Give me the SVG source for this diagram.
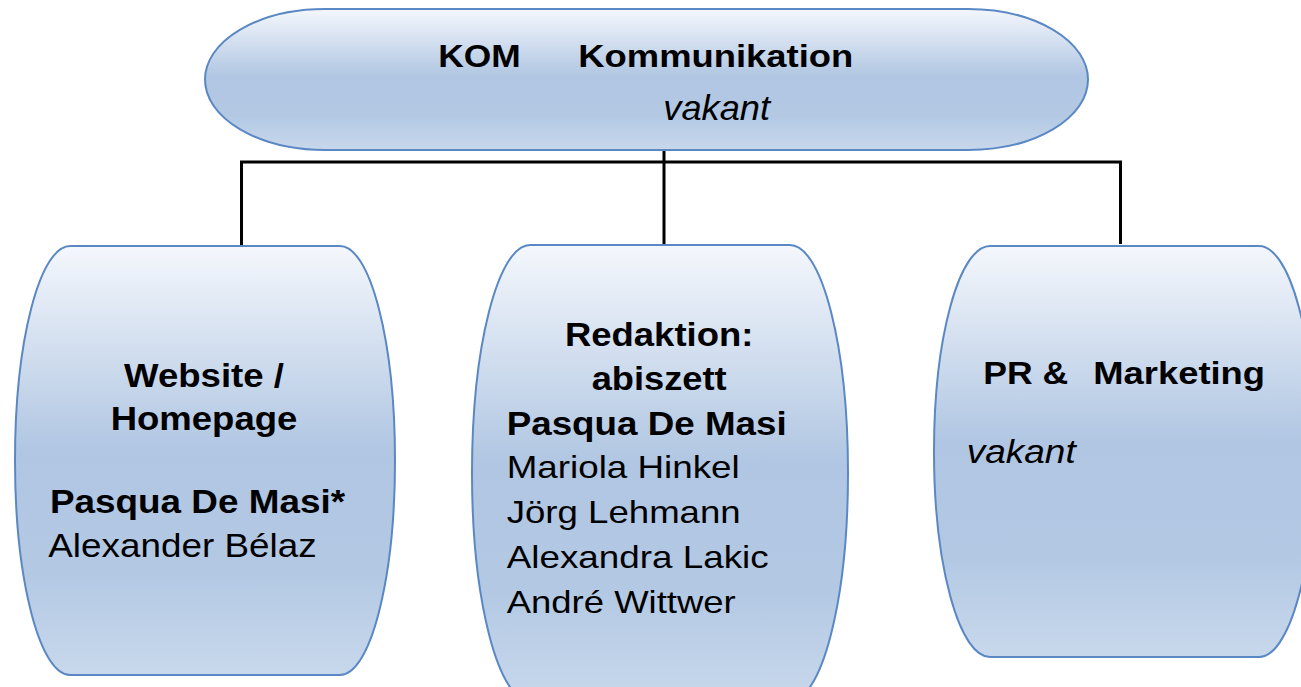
<svg xmlns="http://www.w3.org/2000/svg" width="1301" height="687" viewBox="0 0 1301 687">
<defs>
<linearGradient id="g" x1="0" y1="0" x2="0" y2="1">
<stop offset="0" stop-color="#f4f7fc"/>
<stop offset="0.48" stop-color="#b0c6e2"/>
<stop offset="0.75" stop-color="#b2c8e3"/>
<stop offset="1" stop-color="#c8d8ec"/>
</linearGradient>
<style>
.shape{fill:url(#g);stroke:#5a88c4;stroke-width:2}
.b{font-family:"Liberation Sans",Arial,sans-serif;font-weight:bold;fill:#000}
.r{font-family:"Liberation Sans",Arial,sans-serif;fill:#000}
.i{font-family:"Liberation Sans",Arial,sans-serif;font-style:italic;fill:#000}
.conn{fill:none;stroke:#000;stroke-width:3}
</style>
</defs>
<rect width="1301" height="687" fill="#fff"/>
<g id="connectors">
<path class="conn" d="M241.5,247 V162 H1120.5 V244"/>
<path class="conn" d="M664,150 V245"/>
</g>
<g id="node-kom">
<rect class="shape" x="205" y="9" width="883" height="141" rx="120" ry="70.5"/>
<text class="b" x="438.3" y="66.7" font-size="31" textLength="82.4" lengthAdjust="spacingAndGlyphs">KOM</text>
<text class="b" x="578.3" y="66.7" font-size="31" textLength="275" lengthAdjust="spacingAndGlyphs">Kommunikation</text>
<text class="i" x="663.3" y="120" font-size="35" textLength="106.7" lengthAdjust="spacingAndGlyphs">vakant</text>
</g>
<g id="node-website">
<rect class="shape" x="15" y="246" width="380" height="429" rx="55" ry="214.5"/>
<text class="b" x="124" y="386.7" font-size="33" textLength="160" lengthAdjust="spacingAndGlyphs">Website /</text>
<text class="b" x="110.7" y="430" font-size="33" textLength="186.6" lengthAdjust="spacingAndGlyphs">Homepage</text>
<text class="b" x="50" y="512.7" font-size="33" textLength="295" lengthAdjust="spacingAndGlyphs">Pasqua De Masi*</text>
<text class="r" x="48.3" y="556.7" font-size="33" textLength="268.3" lengthAdjust="spacingAndGlyphs">Alexander Bélaz</text>
</g>
<g id="node-redaktion">
<rect class="shape" x="472" y="245" width="376" height="456" rx="58" ry="228"/>
<text class="b" x="565" y="346" font-size="33" textLength="188.3" lengthAdjust="spacingAndGlyphs">Redaktion:</text>
<text class="b" x="591.7" y="390" font-size="33" textLength="135" lengthAdjust="spacingAndGlyphs">abiszett</text>
<text class="b" x="506.7" y="435" font-size="34" textLength="280" lengthAdjust="spacingAndGlyphs">Pasqua De Masi</text>
<text class="r" x="506.7" y="478.3" font-size="32" textLength="233" lengthAdjust="spacingAndGlyphs">Mariola Hinkel</text>
<text class="r" x="506.7" y="523.3" font-size="32" textLength="234" lengthAdjust="spacingAndGlyphs">Jörg Lehmann</text>
<text class="r" x="506.7" y="568.3" font-size="32" textLength="262" lengthAdjust="spacingAndGlyphs">Alexandra Lakic</text>
<text class="r" x="506.7" y="613.3" font-size="32" textLength="229" lengthAdjust="spacingAndGlyphs">André Wittwer</text>
</g>
<g id="node-pr">
<rect class="shape" x="934" y="246" width="381" height="411" rx="56" ry="205.5"/>
<text class="b" x="983.3" y="384.3" font-size="31" textLength="85" lengthAdjust="spacingAndGlyphs">PR &amp;</text>
<text class="b" x="1093.3" y="384.3" font-size="31" textLength="171.7" lengthAdjust="spacingAndGlyphs">Marketing</text>
<text class="i" x="966.7" y="463.3" font-size="34" textLength="109" lengthAdjust="spacingAndGlyphs">vakant</text>
</g>
</svg>
